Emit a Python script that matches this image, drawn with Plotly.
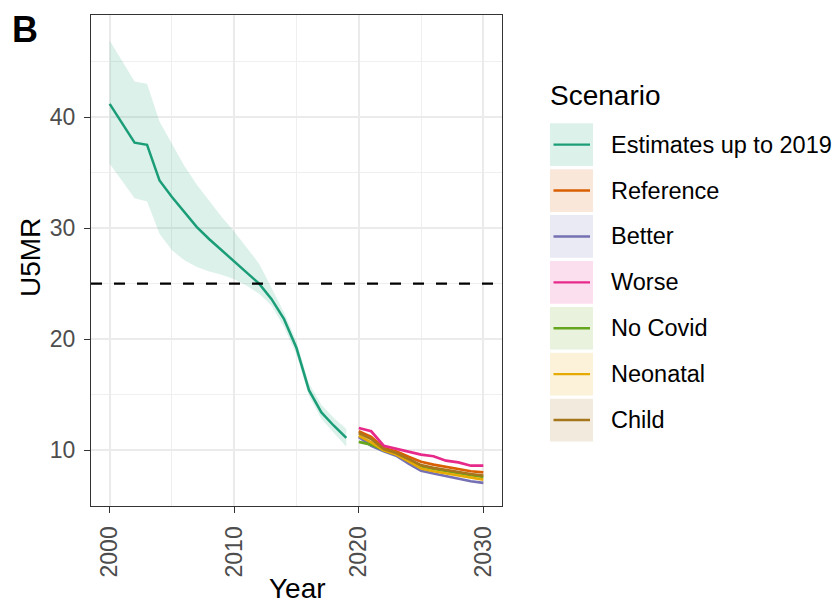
import plotly.graph_objects as go

# ---- data -------------------------------------------------------------
est_years = list(range(2000, 2020))
est_u5mr = [41.2, 39.4, 37.7, 37.5, 34.3, 32.8, 31.4, 30.1, 29.0, 28.0,
            27.0, 26.0, 25.0, 23.6, 21.8, 19.2, 15.4, 13.4, 12.2, 11.1]
est_lower = [35.8, 34.2, 32.7, 32.4, 29.5, 28.0, 27.1, 26.5, 26.1, 25.8,
             25.4, 24.8, 24.1, 23.0, 21.1, 18.6, 14.9, 12.8, 11.5, 10.3]
est_upper = [46.9, 45.0, 43.2, 43.0, 39.6, 37.6, 35.6, 33.9, 32.4, 31.0,
             29.7, 28.3, 26.8, 24.6, 22.4, 19.8, 16.0, 14.1, 12.9, 11.9]

proj_years = list(range(2020, 2031))
reference = [11.7, 11.2, 10.2, 9.9, 9.4, 8.95, 8.7, 8.5, 8.3, 8.1, 8.0]
better = [11.2, 10.4, 9.9, 9.5, 8.8, 8.15, 7.9, 7.65, 7.45, 7.2, 7.05]
worse = [12.0, 11.7, 10.4, 10.15, 9.9, 9.6, 9.45, 9.05, 8.9, 8.6, 8.6]
no_covid = [10.75, 10.5, 10.0, 9.65, 9.1, 8.55, 8.3, 8.1, 7.9, 7.75, 7.6]
neonatal = [11.3, 10.7, 10.0, 9.6, 9.0, 8.35, 8.1, 7.9, 7.7, 7.5, 7.35]
child = [11.55, 11.0, 10.1, 9.75, 9.2, 8.65, 8.4, 8.2, 8.0, 7.85, 7.7]

target = 25
scenario_names = ["Estimates up to 2019", "Reference", "Better", "Worse",
                  "No Covid", "Neonatal", "Child"]
scenario_colors = ["#1B9E77", "#D95F02", "#7570B3", "#E7298A",
                   "#66A61E", "#E6AB02", "#A6761D"]
x_ticks = [2000, 2010, 2020, 2030]
y_ticks = [10, 20, 30, 40]

FONT = "Liberation Sans, Arial, sans-serif"


def rgba(hex_color, alpha):
    h = hex_color.lstrip("#")
    r, g, b = int(h[0:2], 16), int(h[2:4], 16), int(h[4:6], 16)
    return f"rgba({r},{g},{b},{alpha})"


fig = go.Figure()

# uncertainty band for the estimates
fig.add_trace(go.Scatter(x=est_years, y=est_lower, mode="lines",
                         line=dict(width=0), hoverinfo="skip", showlegend=False))
fig.add_trace(go.Scatter(x=est_years, y=est_upper, mode="lines",
                         line=dict(width=0), fill="tonexty",
                         fillcolor=rgba(scenario_colors[0], 0.15),
                         hoverinfo="skip", showlegend=False))

# estimates line
fig.add_trace(go.Scatter(x=est_years, y=est_u5mr, mode="lines",
                         name=scenario_names[0],
                         line=dict(color=scenario_colors[0], width=2.5),
                         showlegend=False))

# projected scenarios
for name, vals, col in zip(scenario_names[1:],
                           [reference, better, worse, no_covid, neonatal, child],
                           scenario_colors[1:]):
    fig.add_trace(go.Scatter(x=proj_years, y=vals, mode="lines", name=name,
                             line=dict(color=col, width=2.7), showlegend=False))

# target line
fig.add_shape(type="line", xref="x domain", yref="y", x0=0, x1=1,
              y0=target, y1=target,
              line=dict(color="black", width=2.2, dash="11px,12px"))

# ---- geometry helpers (pixel -> paper) ---------------------------------
W, H = 840, 605
L, R, T, B = 91, 502, 15, 506
pw, ph = R - L, B - T


def px(p):
    return (p - L) / pw


def py(q):
    return (B - q) / ph


# ---- manual legend -----------------------------------------------------
fig.add_annotation(text="Scenario", xref="paper", yref="paper",
                   x=px(548), y=py(95), xanchor="left", yanchor="middle",
                   showarrow=False, font=dict(family=FONT, size=28, color="black"))
key_top, key_h, key_pitch = 123.3, 42.7, 45.9
for i, (name, col) in enumerate(zip(scenario_names, scenario_colors)):
    y0 = key_top + i * key_pitch
    y1 = y0 + key_h
    yc = (y0 + y1) / 2
    fig.add_shape(type="rect", xref="paper", yref="paper",
                  x0=px(550), x1=px(593), y0=py(y1), y1=py(y0),
                  fillcolor=rgba(col, 0.15), line=dict(width=0))
    fig.add_shape(type="line", xref="paper", yref="paper",
                  x0=px(553.5), x1=px(590), y0=py(yc), y1=py(yc),
                  line=dict(color=col, width=2.4))
    fig.add_annotation(text=name, xref="paper", yref="paper",
                       x=px(609), y=py(yc), xanchor="left", yanchor="middle",
                       showarrow=False,
                       font=dict(family=FONT, size=23.5, color="black"))

# axis titles and panel tag
fig.add_annotation(text="U5MR", xref="paper", yref="paper", x=px(30), y=py(257),
                   textangle=-90, showarrow=False, xanchor="center", yanchor="middle",
                   font=dict(family=FONT, size=28, color="black"))
fig.add_annotation(text="Year", xref="paper", yref="paper", x=px(297), y=py(588),
                   showarrow=False, xanchor="center", yanchor="middle",
                   font=dict(family=FONT, size=28, color="black"))
fig.add_annotation(text="<b>B</b>", xref="paper", yref="paper", x=px(25), y=py(29),
                   showarrow=False, xanchor="center", yanchor="middle",
                   font=dict(family=FONT, size=36, color="black"))

axis_common = dict(
    showgrid=True, gridcolor="#EBEBEB", gridwidth=1.8,
    zeroline=False, showline=True, mirror=True, linecolor="#333333", linewidth=1.2,
    ticks="outside", ticklen=6, tickwidth=1.2, tickcolor="#333333",
    tickfont=dict(family=FONT, size=23, color="#4D4D4D"),
    ticklabelstandoff=4,
)

fig.update_xaxes(range=[1998.5, 2031.5], tickvals=x_ticks, tickangle=-90,
                 minor=dict(tickvals=[2005, 2015, 2025], showgrid=True,
                            gridcolor="#EFEFEF", gridwidth=1.2),
                 **axis_common)
fig.update_yaxes(range=[4.97, 49.2], tickvals=y_ticks,
                 minor=dict(tickvals=[5, 15, 25, 35, 45], showgrid=True,
                            gridcolor="#EFEFEF", gridwidth=1.2),
                 **axis_common)

fig.update_layout(
    width=W, height=H,
    margin=dict(l=L, r=W - R, t=T, b=H - B, autoexpand=False),
    paper_bgcolor="white", plot_bgcolor="white",
    showlegend=False,
    font=dict(family=FONT),
)

fig.write_html("out.html")
